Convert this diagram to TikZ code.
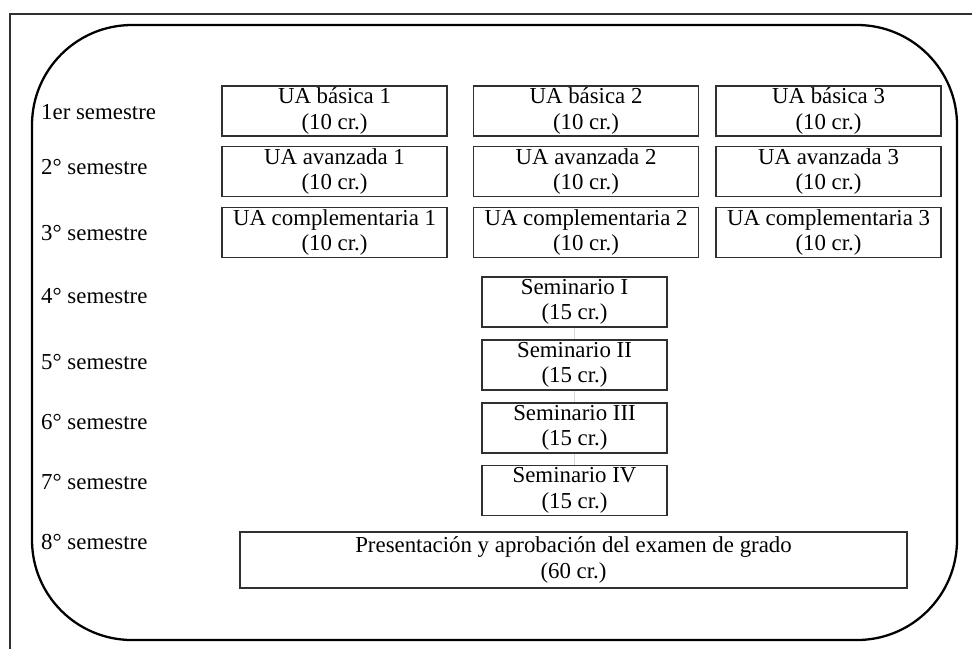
\documentclass[tikz,border=0pt]{standalone}
\usepackage{fontspec}
\setmainfont{Liberation Serif}
\usepackage{tikz}
\usetikzlibrary{positioning}
\definecolor{framegray}{HTML}{303030}
\definecolor{ghostgray}{HTML}{D8D8D8}
\tikzset{
  ua box/.style    = {draw=framegray, line width=0.6pt, minimum width=4.5cm,
                      minimum height=1.0cm, align=center, inner sep=1pt,
                      font=\fontsize{13}{14.5}\selectfont},
  sem box/.style   = {ua box, minimum width=3.7cm},
  exam box/.style  = {ua box, minimum width=13.34cm, minimum height=1.12cm},
  row label/.style = {anchor=west, font=\fontsize{13}{14.5}\selectfont},
  link ghost/.style = {ghostgray, line width=0.5pt},
}

\begin{document}
\begin{tikzpicture}
\useasboundingbox (0,0) rectangle (19.44,-12.98);

% =====================================================================
% Frame
% =====================================================================
\draw[framegray, line width=1pt] (0.2,-12.98) -- (0.2,-0.28) -- (19.44,-0.28);
\draw[black, line width=1.3pt, rounded corners=2cm] (0.64,-0.5) rectangle (19.14,-12.8);

% =====================================================================
% Semester labels
% =====================================================================
\foreach \y/\lab in {-2.24/1er semestre, -3.34/2° semestre, -4.66/3° semestre,
                     -5.92/4° semestre, -7.24/5° semestre, -8.44/6° semestre,
                     -9.64/7° semestre, -10.84/8° semestre} {
  \node[row label] at (0.7,\y) {\lab};
}

% =====================================================================
% Semesters 1--3: three units each
% =====================================================================
\node[ua box] (b1) at (6.69, -2.22) {UA básica 1\\(10 cr.)};
\node[ua box] (b2) at (11.72,-2.22) {UA básica 2\\(10 cr.)};
\node[ua box] (b3) at (16.57,-2.22) {UA básica 3\\(10 cr.)};

\node[ua box] (a1) at (6.69, -3.43) {UA avanzada 1\\(10 cr.)};
\node[ua box] (a2) at (11.72,-3.43) {UA avanzada 2\\(10 cr.)};
\node[ua box] (a3) at (16.57,-3.43) {UA avanzada 3\\(10 cr.)};

\node[ua box] (c1) at (6.69, -4.65) {UA complementaria 1\\(10 cr.)};
\node[ua box] (c2) at (11.72,-4.65) {UA complementaria 2\\(10 cr.)};
\node[ua box] (c3) at (16.57,-4.65) {UA complementaria 3\\(10 cr.)};

% =====================================================================
% Semesters 4--7: seminars
% =====================================================================
\node[sem box] (s1) at (11.49,-6.04) {Seminario I\\(15 cr.)};
\node[sem box] (s2) at (11.49,-7.30) {Seminario II\\(15 cr.)};
\node[sem box] (s3) at (11.49,-8.56) {Seminario III\\(15 cr.)};
\node[sem box] (s4) at (11.49,-9.81) {Seminario IV\\(15 cr.)};

% faint links between seminars
\draw[link ghost] (s1) -- (s2);
\draw[link ghost] (s2) -- (s3);
\draw[link ghost] (s3) -- (s4);

% =====================================================================
% Semester 8: exam
% =====================================================================
\node[exam box] (exam) at (11.47,-11.2)
      {Presentación y aprobación del examen de grado\\(60 cr.)};

\end{tikzpicture}
\end{document}
